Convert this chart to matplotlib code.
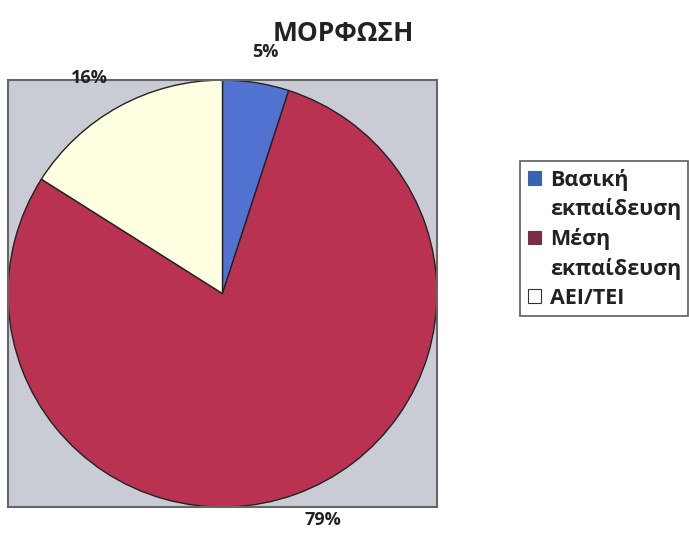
import matplotlib.pyplot as plt
from matplotlib.patches import Patch

plt.rcParams['font.family'] = ['Open Sans', 'DejaVu Sans']

labels = ["Βασική\nεκπαίδευση", "Μέση\nεκπαίδευση", "ΑΕΙ/ΤΕΙ"]
values = [5, 79, 16]
pct_text = ["5%", "79%", "16%"]
colors = ["#5272d2", "#b93252", "#ffffe2"]
legend_colors = ["#3a62b4", "#7a2d42", "#ffffff"]

fig = plt.figure(figsize=(6.89, 5.35), dpi=100)
ax = fig.add_axes([0.0116, 0.0523, 0.6226, 0.798])
ax.set_facecolor("#c9ccd4")

wedges, texts = ax.pie(values, colors=colors, startangle=90, counterclock=False,
                       labels=pct_text, labeldistance=1.12,
                       wedgeprops=dict(edgecolor="#222222", linewidth=1.0),
                       textprops=dict(fontsize=13, fontweight="bold", color="#222222"),
                       frame=True)
ax.set_xlim(-1.0, 1.0)
ax.set_ylim(-1.0, 1.0)
ax.set_aspect("auto")
ax.set_xticks([])
ax.set_yticks([])
for s in ax.spines.values():
    s.set_color("#666666")
    s.set_linewidth(1.5)

# nudge label positions to match reference
texts[0].set_position((0.20, 1.13))
texts[1].set_position((0.47, -1.06))
texts[2].set_position((-0.62, 1.01))
for t in texts:
    t.set_ha("center")
    t.set_va("center")

fig.text(0.498, 0.938, "ΜΟΡΦΩΣΗ", fontsize=19, fontweight="bold",
         ha="center", va="center", color="#222222")

# legend: marker sits on the first line of each wrapped label
handles, leg_labels = [], []
for lab, c in zip(labels, legend_colors):
    for j, line in enumerate(lab.split("\n")):
        if j == 0:
            ec = "#333333" if c == "#ffffff" else c
            handles.append(Patch(facecolor=c, edgecolor=ec, linewidth=0.8))
        else:
            handles.append(Patch(facecolor="none", edgecolor="none"))
        leg_labels.append(line)

leg = fig.legend(handles, leg_labels, loc="upper left", bbox_to_anchor=(0.755, 0.699),
                 prop=dict(size=15.5, weight="bold"), frameon=True, fancybox=False,
                 handlelength=0.62, handleheight=0.62, handletextpad=0.4,
                 labelspacing=0.36, borderpad=0.35, borderaxespad=0)
leg.get_frame().set_edgecolor("#333333")
leg.get_frame().set_linewidth(1.2)
for t in leg.get_texts():
    t.set_color("#222222")

fig.savefig("out.png", dpi=100)
